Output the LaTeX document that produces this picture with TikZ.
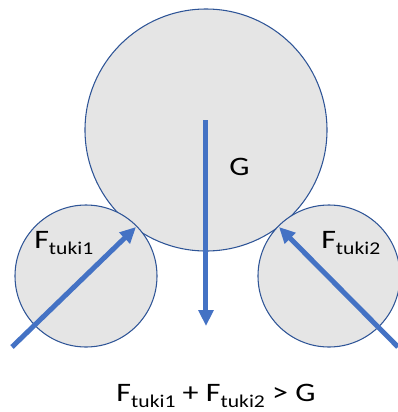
\documentclass[tikz,border=0pt]{standalone}
\usepackage{fontspec}
\setmainfont{Carlito}[FakeStretch=1.2]
\usetikzlibrary{arrows.meta}
\definecolor{kulagray}{HTML}{E5E5E5}
\definecolor{kulaedge}{HTML}{2F5597}
\definecolor{voimablue}{HTML}{4472C4}
\newcommand{\alaind}[1]{\raisebox{-5pt}{\fontsize{13.5}{16}\selectfont #1}}

\begin{document}
\begin{tikzpicture}[x=0.75pt,y=-0.75pt,
  kula/.style={circle,draw=kulaedge,line width=0.8pt,fill=kulagray,inner sep=0pt},
  voima/.style={voimablue,line width=3.75pt,-{Triangle[length=12pt,width=11pt]}},
  merkki/.style={font=\fontsize{20}{24}\selectfont,inner sep=0pt}]
  \useasboundingbox (0,0) rectangle (398,412);
  \node[kula,minimum size=242*0.75pt] (iso) at (206,130) {};
  \node[kula,minimum size=142*0.75pt] (tuki1) at (86,276) {};
  \node[kula,minimum size=142*0.75pt] (tuki2) at (329,276) {};
  % voimat
  \coordinate (g1) at (206,120);
  \coordinate (g2) at (206,326);
  \coordinate (a1) at (12,347);
  \coordinate (k1) at (136,227);
  \coordinate (a2) at (398,347);
  \coordinate (k2) at (279,227);
  \draw[voima] (g1) -- (g2);
  \draw[voima] (a1) -- (k1);
  \draw[voima] (a2) -- (k2);
  % tekstit
  \node[merkki,anchor=base west] (gteksti) at (229,175) {G};
  \node[merkki,anchor=base west] (f1teksti) at (34,248) {F\alaind{tuki1}};
  \node[merkki,anchor=base west] (f2teksti) at (321,248) {F\alaind{tuki2}};
  \node[merkki,anchor=base] (ehto) at (216,401) {F\alaind{tuki1} + F\alaind{tuki2} > G};
\end{tikzpicture}
\end{document}
